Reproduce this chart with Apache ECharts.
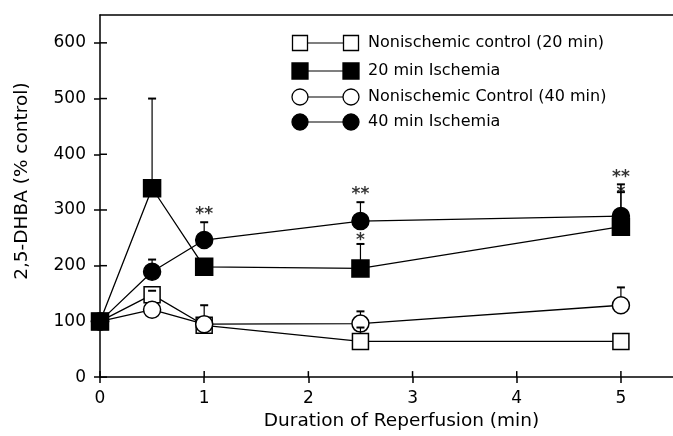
<!DOCTYPE html>
<html>
<head>
<meta charset="utf-8">
<script src="https://cdn.jsdelivr.net/npm/echarts@6/dist/echarts.min.js"></script>
<style>
  html, body { margin: 0; padding: 0; background: #fff; }
  #chart { width: 673px; height: 436px; }
</style>
</head>
<body>
<div id="chart"></div>
<script>
// reperfusion time points (min)
const xValues = [0, 0.5, 1, 2.5, 5];

// 2,5-DHBA (% control)
const ctrl20 = [100, 148, 93, 64, 64];
const isch20 = [100, 339, 198, 195, 270];
const ctrl40 = [100, 121, 95, 96, 129];
const isch40 = [100, 189, 246, 280, 289];

// upper error bar ends (null = none drawn)
const ctrl20Err = [null, 155, null, 89, null];
const isch20Err = [null, 500, null, 239, 332];
const ctrl40Err = [null, null, 129, 118, 161];
const isch40Err = [null, 211, 278, 314, 346];

// significance marks: [x, y, text]
const stars = [
  [1, 292, "**"],
  [2.5, 328, "**"],
  [2.5, 245, "*"],
  [5, 358, "**"],
  [5, 330, "*"]
];

const yTicks = [0, 100, 200, 300, 400, 500, 600];
const xTicks = [0, 1, 2, 3, 4, 5];

const seriesNames = [
  "Nonischemic control (20 min)",
  "20 min Ischemia",
  "Nonischemic Control (40 min)",
  "40 min Ischemia"
];

const FONT = "DejaVu Sans";

const myChart = echarts.init(document.getElementById("chart"), null, { renderer: "canvas" });

function pts(vals) {
  return xValues.map((x, i) => [x, vals[i]]);
}

// open / filled marker styles
const styles = [
  { symbol: "rect", size: 16, fill: "#fff" },
  { symbol: "rect", size: 17, fill: "#000" },
  { symbol: "circle", size: 17, fill: "#fff" },
  { symbol: "circle", size: 17, fill: "#000" }
];
const values = [ctrl20, isch20, ctrl40, isch40];
const errs = [ctrl20Err, isch20Err, ctrl40Err, isch40Err];

const lineSeries = values.map((vals, k) => ({
  name: seriesNames[k],
  type: "line",
  data: pts(vals),
  symbol: styles[k].symbol,
  symbolSize: styles[k].size,
  showAllSymbol: true,
  z: 3 + k,
  lineStyle: { color: "#000", width: 1.3 },
  itemStyle: { color: styles[k].fill, borderColor: "#000", borderWidth: 1.5, opacity: 1 },
  emphasis: { disabled: true },
  animation: false
}));

// error bar data: [x, y, top, halfSize]
const errData = [];
errs.forEach((arr, k) => {
  arr.forEach((top, i) => {
    if (top != null) errData.push([xValues[i], values[k][i], top, styles[k].size / 2]);
  });
});

const errSeries = {
  type: "custom",
  z: 10,
  data: errData,
  encode: { x: 0, y: 1 },
  renderItem: function (params, api) {
    const p = api.coord([api.value(0), api.value(1)]);
    const t = api.coord([api.value(0), api.value(2)]);
    const half = api.value(3);
    const startY = p[1] - half;
    const children = [];
    if (t[1] < startY) {
      children.push({
        type: "line",
        shape: { x1: p[0], y1: startY, x2: p[0], y2: t[1] },
        style: { stroke: "#000", lineWidth: 1.2 }
      });
    }
    children.push({
      type: "line",
      shape: { x1: p[0] - 4, y1: t[1], x2: p[0] + 4, y2: t[1] },
      style: { stroke: "#000", lineWidth: 2 }
    });
    return { type: "group", children: children };
  },
  animation: false
};

// inner half of the crossing tick marks: [x, y, kind] kind 0 = x tick, 1 = y tick
const tickData = xTicks.map(v => [v, 0, 0]).concat(yTicks.map(v => [0, v, 1]));
const tickSeries = {
  type: "custom",
  z: 12,
  data: tickData,
  encode: { x: 0, y: 1 },
  renderItem: function (params, api) {
    const p = api.coord([api.value(0), api.value(1)]);
    const vertical = api.value(2) === 0;
    return {
      type: "line",
      shape: vertical
        ? { x1: p[0], y1: p[1], x2: p[0], y2: p[1] - 6 }
        : { x1: p[0], y1: p[1], x2: p[0] + 7, y2: p[1] },
      style: { stroke: "#000", lineWidth: 1.5 }
    };
  },
  animation: false
};

const starSeries = {
  type: "scatter",
  z: 11,
  symbolSize: 0,
  data: stars.map(s => ({ value: [s[0], s[1]], label: { formatter: s[2] } })),
  label: {
    show: true,
    position: "inside",
    color: "#000",
    fontFamily: FONT,
    fontSize: 17,
    fontWeight: "bold"
  },
  emphasis: { disabled: true },
  animation: false
};

// legend drawn as symbol—line—symbol rows
const legendRows = [43, 71, 97, 122];
const legendGraphic = [];
seriesNames.forEach((name, k) => {
  const y = legendRows[k];
  const s = styles[k];
  const mk = (cx) => s.symbol === "rect"
    ? { type: "rect", shape: { x: cx - s.size / 2 + 0.5, y: y - s.size / 2 + 0.5, width: s.size - 1, height: s.size - 1 },
        style: { fill: s.fill, stroke: "#000", lineWidth: 1.3 } }
    : { type: "circle", shape: { cx: cx, cy: y, r: s.size / 2 - 0.5 },
        style: { fill: s.fill, stroke: "#000", lineWidth: 1.3 } };
  legendGraphic.push({ type: "line", shape: { x1: 300, y1: y, x2: 351, y2: y }, style: { stroke: "#000", lineWidth: 1.2 } });
  legendGraphic.push(mk(300));
  legendGraphic.push(mk(351));
  legendGraphic.push({
    type: "text", x: 368, y: y,
    style: { text: name, fill: "#000", font: "16px '" + FONT + "'", verticalAlign: "middle", align: "left" }
  });
});

const tickStyle = { color: "#000", width: 1.5 };

const option = {
  backgroundColor: "#fff",
  animation: false,
  grid: { left: 100, right: -5, top: 15, bottom: 57 },
  xAxis: [
    {
      type: "value",
      position: "bottom",
      min: 0,
      max: 5.5,
      interval: 1,
      name: "Duration of Reperfusion (min)",
      nameLocation: "middle",
      nameGap: 31,
      nameTextStyle: { color: "#000", fontFamily: FONT, fontSize: 18.5, padding: [0, 0, 0, 30] },
      axisLine: { show: true, lineStyle: tickStyle },
      axisTick: { show: true, inside: false, length: 6, lineStyle: tickStyle },
      axisLabel: {
        color: "#000", fontFamily: FONT, fontSize: 17, margin: 13, showMaxLabel: false,
        formatter: v => (xTicks.indexOf(v) >= 0 ? String(v) : "")
      },
      splitLine: { show: false }
    },
    {
      type: "value",
      position: "top",
      min: 0,
      max: 5.5,
      axisLine: { show: true, lineStyle: tickStyle },
      axisTick: { show: false },
      axisLabel: { show: false },
      splitLine: { show: false }
    }
  ],
  yAxis: {
    type: "value",
    position: "left",
    min: 0,
    max: 650,
    interval: 100,
    name: "2,5-DHBA (% control)",
    nameLocation: "middle",
    nameGap: 68,
    nameTextStyle: { color: "#000", fontFamily: FONT, fontSize: 18.5, padding: [0, 0, 0, 30] },
    axisLine: { show: true, lineStyle: tickStyle },
    axisTick: { show: true, inside: false, length: 6, lineStyle: tickStyle },
    axisLabel: {
      color: "#000", fontFamily: FONT, fontSize: 17, margin: 14, showMaxLabel: false,
      formatter: v => (yTicks.indexOf(v) >= 0 ? String(v) : "")
    },
    splitLine: { show: false }
  },
  graphic: legendGraphic,
  series: [tickSeries].concat(lineSeries, [errSeries, starSeries])
};

myChart.setOption(option);
</script>
</body>
</html>
